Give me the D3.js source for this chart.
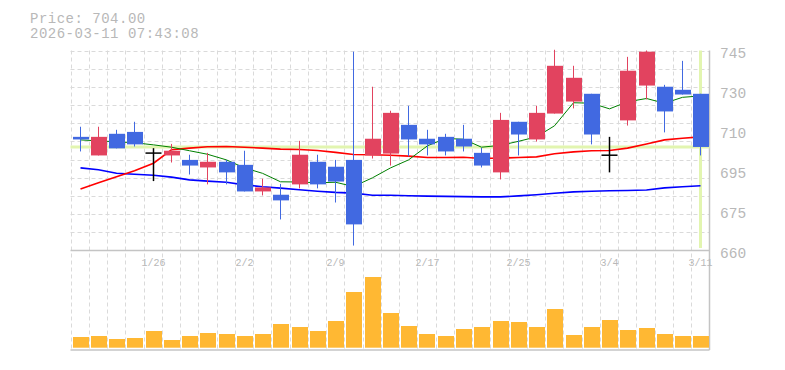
<!DOCTYPE html>
<html>
<head>
<meta charset="utf-8">
<script src="https://cdn.jsdelivr.net/npm/d3@7"></script>
<style>
  body { margin: 0; background: #fff; }
  svg { display: block; }
  text { font-family: "Liberation Mono", "DejaVu Sans Mono", monospace; fill: #b8b8b8; }
</style>
</head>
<body>
<svg id="chart" width="785" height="370"></svg>
<script>
// trading days shown (one candle each)
const dates = ['1/20','1/21','1/22','1/23','1/26','1/27','1/28','1/29','1/30','2/2',
  '2/3','2/4','2/5','2/6','2/9','2/10','2/12','2/13','2/16','2/17',
  '2/18','2/19','2/20','2/24','2/25','2/26','2/27','3/2','3/3','3/4',
  '3/5','3/6','3/9','3/10','3/11'];

const opens  = [708.3,700.4,709.6,710.4,701.4,700.4,698.5,695.3,697.7,696.4,
  685.1,683.7,688.1,697.7,695.6,698.5,700.4,701.2,713.4,707.5,
  708.3,707.5,701.5,693.2,714.7,707.2,718.2,723.3,726.6,700.5,
  715.3,730.1,729.6,728.3,726.6];
const highs  = [712.6,712.6,711.3,714.7,703.5,705.3,700.7,701.5,698.5,702.4,
  690.5,688.3,706.6,700.7,698.5,744.5,729.6,719.4,721.5,711.3,
  709.6,713.4,703.6,718.5,714.7,721.5,745.3,738.5,726.6,708.3,
  742.3,745.0,730.4,740.6,726.6];
const lows   = [702.1,700.4,703.4,704.2,689.5,697.4,692.3,688.1,688.1,685.1,
  683.4,673.2,686.4,686.4,680.4,662.1,699.1,696.1,700.0,700.4,
  700.4,702.1,695.3,690.2,700.4,706.3,718.2,720.4,705.1,693.2,
  713.1,724.2,710.2,726.3,700.4];
const closes = [707.2,708.3,703.4,705.1,701.4,702.4,696.1,697.7,693.2,685.1,
  686.8,681.3,700.7,688.1,689.3,671.1,707.5,718.5,707.2,705.1,
  702.1,704.2,696.1,715.5,709.3,718.5,738.5,733.4,709.3,700.5,
  736.4,744.5,719.1,726.3,704.0];
const volumes = [107,117,87,97,167,77,117,147,137,117,
  137,237,207,167,267,557,707,347,217,137,
  117,187,207,267,257,207,387,127,207,277,
  177,197,137,117,117];

// moving averages
const maShort = [707.0,706.6,706.2,705.8,704.9,703.9,702.4,700.9,698.5,695.1,
  692.8,689.2,689.1,688.8,689.0,687.2,690.9,695.1,698.5,704.5,
  707.6,707.3,703.9,704.7,706.4,708.3,713.0,722.8,722.6,720.2,
  723.2,724.6,722.6,725.1,725.7];
const maMid = [686.1,688.8,691.3,693.9,697.1,702.8,703.5,704.1,704.2,703.9,
  703.5,703.1,702.9,702.5,701.7,700.8,700.7,700.5,700.1,699.5,
  699.5,699.6,699.1,699.3,699.5,699.8,701.1,701.9,702.4,702.5,
  703.5,705.3,707.0,707.7,708.3];
const maLong = [695.1,694.3,692.8,692.4,692.0,691.2,690.0,689.5,689.0,687.9,
  687.1,686.5,685.8,685.2,684.7,684.4,683.5,683.5,683.3,683.1,
  683.0,682.9,682.8,682.8,683.2,683.7,684.3,684.9,685.2,685.4,
  685.5,685.7,686.6,687.1,687.5];

const xTickDates = ['1/26','2/2','2/9','2/17','2/25','3/4','3/11'];
const yTickValues = [745, 728, 711, 694, 677, 660];
const yTickLabels = ['745','730','710','695','675','660'];
const lastPrice = 704.00;
const stamp = '2026-03-11 07:43:08';

const svg = d3.select('#chart');
const plotL = 70.5, plotR = 709.5, plotT = 50.5, priceB = 250.5, volB = 350;

const x = d3.scaleBand()
  .domain(dates)
  .range([plotL, plotR])
  .paddingInner(0.12)
  .paddingOuter(0.06);
const step = x.step();
const bw = x.bandwidth();
const cx = d => Math.round(x(d) + bw / 2) + 0.5;

const y = d3.scaleLinear().domain([660, 745]).range([priceB, plotT]);
const yVol = d3.scaleLinear().domain([0, 977]).range([347.7, 250]);

const candles = dates.map((d, i) => ({
  date: d, open: opens[i], high: highs[i], low: lows[i], close: closes[i], vol: volumes[i]
}));

// grid
const grid = svg.append('g').attr('stroke', '#dadada').attr('stroke-dasharray', '4,3');
grid.selectAll('line.v')
  .data(d3.range(dates.length))
  .join('line')
  .attr('class', 'v')
  .attr('x1', i => Math.round(plotL + i * step) + 0.5)
  .attr('x2', i => Math.round(plotL + i * step) + 0.5)
  .attr('y1', plotT).attr('y2', volB);
grid.selectAll('line.h')
  .data(d3.range(11))
  .join('line')
  .attr('class', 'h')
  .attr('x1', plotL).attr('x2', plotR)
  .attr('y1', k => Math.round(plotT + k * (priceB - plotT) / 11) + 0.5)
  .attr('y2', k => Math.round(plotT + k * (priceB - plotT) / 11) + 0.5);

// frame
const frame = svg.append('g').attr('stroke', '#c4c4c4').attr('stroke-width', 1.5);
frame.append('line').attr('x1', plotL).attr('x2', plotR).attr('y1', priceB).attr('y2', priceB);
frame.append('line').attr('x1', plotL).attr('x2', plotR).attr('y1', volB).attr('y2', volB);
frame.append('line').attr('x1', plotR).attr('x2', plotR).attr('y1', plotT).attr('y2', volB);

// current price markers
const lastDate = dates[dates.length - 1];
svg.append('line')
  .attr('x1', plotL).attr('x2', plotR)
  .attr('y1', y(lastPrice)).attr('y2', y(lastPrice))
  .attr('stroke', '#e2f5b0').attr('stroke-width', 3);
svg.append('line')
  .attr('x1', cx(lastDate)).attr('x2', cx(lastDate))
  .attr('y1', plotT).attr('y2', 248)
  .attr('stroke', '#e2f5b0').attr('stroke-width', 3);

// moving averages
const maLine = d3.line().x((v, i) => cx(dates[i])).y(v => y(v));
[[maLong, '#0000ff', 1.6], [maMid, '#ff0000', 1.6], [maShort, '#008000', 1]].forEach(([vals, col, w]) => {
  svg.append('path')
    .attr('d', maLine(vals))
    .attr('fill', 'none')
    .attr('stroke', col)
    .attr('stroke-width', w);
});

// candles
const colorOf = d => d.close > d.open ? '#e2435f' : d.close < d.open ? '#4169e1' : '#000';
const cg = svg.append('g').selectAll('g').data(candles).join('g');
cg.append('line')
  .attr('x1', d => cx(d.date)).attr('x2', d => cx(d.date))
  .attr('y1', d => y(d.high)).attr('y2', d => y(d.low))
  .attr('stroke', colorOf)
  .attr('stroke-width', d => d.open === d.close ? 1.5 : 1);
cg.filter(d => d.open !== d.close).append('rect')
  .attr('x', d => Math.round(x(d.date)) + 1)
  .attr('width', Math.round(bw))
  .attr('y', d => y(Math.max(d.open, d.close)))
  .attr('height', d => Math.max(1, y(Math.min(d.open, d.close)) - y(Math.max(d.open, d.close))))
  .attr('fill', colorOf);
cg.filter(d => d.open === d.close).append('line')
  .attr('x1', d => cx(d.date) - 8).attr('x2', d => cx(d.date) + 8)
  .attr('y1', d => y(d.close)).attr('y2', d => y(d.close))
  .attr('stroke', '#000').attr('stroke-width', 1.5);

// volume
svg.append('g').selectAll('rect').data(candles).join('rect')
  .attr('x', d => Math.round(x(d.date)) + 1)
  .attr('width', Math.round(bw))
  .attr('y', d => yVol(d.vol))
  .attr('height', d => yVol(0) - yVol(d.vol))
  .attr('fill', '#ffb833');

// y labels
svg.append('g').selectAll('text').data(yTickValues).join('text')
  .attr('x', 720)
  .attr('y', v => y(v) + 7.8)
  .style('font-size', '14.5px')
  .text((v, i) => yTickLabels[i]);

// x labels
svg.append('g').selectAll('text').data(xTickDates).join('text')
  .attr('x', d => cx(d))
  .attr('y', 266)
  .attr('text-anchor', 'middle')
  .style('font-size', '10px')
  .text(d => d);

// header
svg.append('text').attr('x', 30).attr('y', 23).style('font-size', '14px')
  .style('letter-spacing', '0.5px')
  .text('Price: ' + lastPrice.toFixed(2));
svg.append('text').attr('x', 30).attr('y', 38).style('font-size', '14px')
  .style('letter-spacing', '0.5px')
  .text(stamp);
</script>
</body>
</html>
